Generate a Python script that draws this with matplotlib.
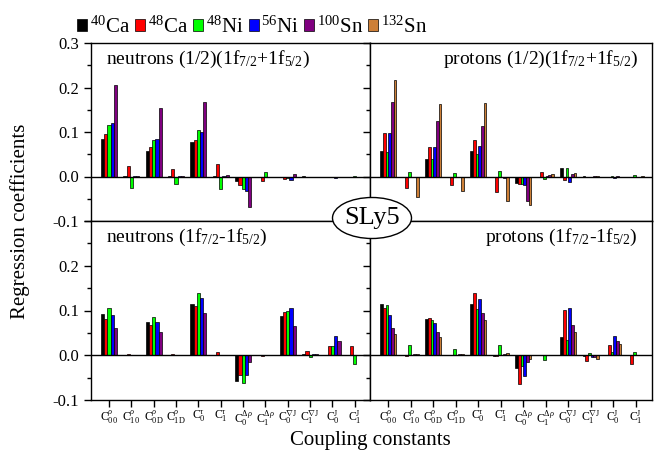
import matplotlib
matplotlib.use("Agg")
import matplotlib.pyplot as plt
import numpy as np
from matplotlib.patches import Ellipse
from matplotlib.ticker import MultipleLocator

plt.rcParams['font.family'] = ['Liberation Serif', 'DejaVu Serif']
plt.rcParams['mathtext.fontset'] = 'custom'
plt.rcParams['mathtext.rm'] = 'Liberation Serif'
plt.rcParams['mathtext.it'] = 'Liberation Serif:italic'
plt.rcParams['mathtext.bf'] = 'Liberation Serif:bold'

# coupling constants (x categories)
constants = [r'$\mathrm{C}^{\rho}_{00}$', r'$\mathrm{C}^{\rho}_{10}$', r'$\mathrm{C}^{\rho}_{\mathrm{0D}}$',
             r'$\mathrm{C}^{\rho}_{\mathrm{1D}}$', r'$\mathrm{C}^{\tau}_{0}$', r'$\mathrm{C}^{\tau}_{1}$',
             r'$\mathrm{C}^{\Delta\rho}_{0}$', r'$\mathrm{C}^{\Delta\rho}_{1}$', r'$\mathrm{C}^{\nabla\mathrm{J}}_{0}$',
             r'$\mathrm{C}^{\nabla\mathrm{J}}_{1}$', r'$\mathrm{C}^{\mathrm{J}}_{0}$', r'$\mathrm{C}^{\mathrm{J}}_{1}$']

nuclei = [r'$^{40}$Ca', r'$^{48}$Ca', r'$^{48}$Ni', r'$^{56}$Ni', r'$^{100}$Sn', r'$^{132}$Sn']
colors = ['#000000', '#ff0000', '#00ff00', '#0000ff', '#800080', '#cd7f37']

# neutrons (1/2)(1f7/2+1f5/2), rows: 40Ca 48Ca 48Ni 56Ni 100Sn
neutrons_sum = [
    [0.085, 0.001, 0.058, 0.001, 0.078, 0.001, -0.010, 0.000, -0.002, 0.001, 0.000, 0.000],
    [0.096, 0.023, 0.066, 0.016, 0.082, 0.028, -0.019, -0.011, -0.005, 0.000, 0.000, 0.000],
    [0.116, -0.025, 0.082, -0.017, 0.105, -0.028, -0.029, 0.009, -0.003, -0.001, 0.000, 0.001],
    [0.120, 0.001, 0.085, 0.001, 0.099, 0.002, -0.033, 0.000, -0.008, 0.000, -0.004, 0.000],
    [0.205, 0.002, 0.155, 0.001, 0.167, 0.003, -0.068, 0.000, 0.006, 0.000, 0.000, 0.000],
]

# protons (1/2)(1f7/2+1f5/2), rows: 40Ca 48Ca 48Ni 56Ni 100Sn 132Sn
protons_sum = [
    [0.058, 0.000, 0.040, 0.000, 0.057, 0.000, -0.015, 0.000, 0.019, 0.001, 0.000, 0.000],
    [0.098, -0.026, 0.066, -0.018, 0.081, -0.034, -0.017, 0.010, -0.007, 0.000, 0.000, 0.000],
    [0.055, 0.010, 0.039, 0.007, 0.050, 0.012, -0.016, -0.005, 0.018, -0.001, 0.001, 0.003],
    [0.098, 0.000, 0.066, 0.000, 0.069, -0.002, -0.020, 0.001, -0.013, 0.000, -0.003, 0.000],
    [0.168, -0.001, 0.124, 0.000, 0.114, -0.003, -0.054, 0.004, 0.005, 0.001, 0.002, 0.000],
    [0.216, -0.047, 0.164, -0.033, 0.166, -0.055, -0.064, 0.005, 0.007, 0.002, 0.000, 0.001],
]

# neutrons (1f7/2-1f5/2)
neutrons_diff = [
    [0.093, 0.001, 0.075, 0.001, 0.115, 0.001, -0.058, 0.000, 0.088, 0.002, 0.001, 0.001],
    [0.082, 0.003, 0.067, 0.002, 0.110, 0.007, -0.045, -0.002, 0.096, 0.010, 0.021, 0.021],
    [0.105, 0.001, 0.086, 0.001, 0.139, 0.001, -0.063, 0.001, 0.100, -0.005, 0.021, -0.020],
    [0.091, 0.001, 0.075, 0.001, 0.129, 0.001, -0.045, 0.001, 0.106, 0.003, 0.044, 0.000],
    [0.060, 0.001, 0.051, 0.001, 0.095, 0.001, -0.014, 0.001, 0.066, 0.003, 0.031, 0.000],
]

# protons (1f7/2-1f5/2)
protons_diff = [
    [0.115, 0.001, 0.082, 0.001, 0.114, -0.001, -0.028, 0.001, 0.040, -0.002, 0.001, 0.001],
    [0.105, -0.001, 0.084, 0.001, 0.138, -0.001, -0.064, 0.001, 0.102, -0.012, 0.022, -0.019],
    [0.113, 0.022, 0.079, 0.015, 0.104, 0.024, -0.025, -0.011, 0.035, 0.004, 0.007, 0.008],
    [0.089, 0.001, 0.073, 0.001, 0.125, 0.000, -0.047, 0.001, 0.105, -0.005, 0.042, 0.001],
    [0.061, 0.002, 0.051, 0.002, 0.095, 0.002, -0.015, 0.000, 0.067, -0.003, 0.031, 0.000],
    [0.048, 0.003, 0.040, 0.003, 0.078, 0.005, -0.008, 0.000, 0.052, -0.008, 0.025, 0.000],
]

titles = [r'neutrons (1/2)(1f$_{7/2}$+1f$_{5/2}$)', r'protons (1/2)(1f$_{7/2}$+1f$_{5/2}$)',
          r'neutrons (1f$_{7/2}$-1f$_{5/2}$)', r'protons (1f$_{7/2}$-1f$_{5/2}$)']

W, H = 660, 462
fig = plt.figure(figsize=(6.6, 4.62), dpi=100)

def px_axes(x0, y0, x1, y1):
    return fig.add_axes([x0 / W, 1 - y1 / H, (x1 - x0) / W, (y1 - y0) / H])

ax_tl = px_axes(91, 43, 370, 221)
ax_tr = px_axes(370, 43, 652, 221)
ax_bl = px_axes(91, 221, 370, 400)
ax_br = px_axes(370, 221, 652, 400)

x = np.arange(1, 13)
panels = [(ax_tl, neutrons_sum), (ax_tr, protons_sum), (ax_bl, neutrons_diff), (ax_br, protons_diff)]
handles = []
for k, (ax, data) in enumerate(panels):
    n = len(data)
    w = 0.72 / n
    for i, vals in enumerate(data):
        bars = ax.bar(x + (i - (n - 1) / 2) * w, vals, w, color=colors[i],
                      edgecolor='black', linewidth=0.5, zorder=2)
        if k == 1:
            handles.append(bars)
    ax.axhline(0, color='black', lw=1, zorder=3)
    ax.set_ylim(-0.1, 0.3)
    ax.set_xlim(0.19, 12.68 if k % 2 == 0 else 12.72)
    ax.yaxis.set_major_locator(MultipleLocator(0.1))
    ax.yaxis.set_minor_locator(MultipleLocator(0.05))
    ax.set_xticks(x)
    ax.tick_params(axis='both', which='major', direction='out', length=5, width=1, labelsize=12)
    ax.tick_params(axis='y', which='minor', direction='out', length=3, width=1)
    for s in ax.spines.values():
        s.set_linewidth(1)
    if k % 2 == 0:
        ax.text(0.055, 0.965, titles[k], transform=ax.transAxes, ha='left', va='top', fontsize=14)
        ax.set_yticks([-0.1, 0.0, 0.1, 0.2, 0.3])
        labels = ['-0.1', '0.0', '0.1', '0.2', '0.3' if k == 0 else '']
        ax.set_yticklabels(labels)
    else:
        ax.text(0.95, 0.965, titles[k], transform=ax.transAxes, ha='right', va='top', fontsize=14)
        ax.set_yticklabels([])
    if k < 2:
        ax.set_xticklabels([])
    else:
        ax.set_xticklabels(constants, fontsize=8.5)
        ax.tick_params(axis='x', pad=1)

fig.text(20 / W, 1 - 221 / H, 'Regression coefficients', rotation=90, ha='center', va='center', fontsize=15)
fig.text(370 / W, 1 - 441 / H, 'Coupling constants', ha='center', va='center', fontsize=15)

ell = Ellipse((372 / W, 1 - 218 / H), 79 / W, 41 / H, transform=fig.transFigure,
              facecolor='white', edgecolor='black', lw=1, zorder=10)
fig.add_artist(ell)
fig.text(372 / W, 1 - 218 / H, 'SLy5', ha='center', va='center', fontsize=19, zorder=11)

fig.legend(handles, nuclei, loc='center', bbox_to_anchor=(252 / W, 1 - 27 / H), ncol=6,
           frameon=False, fontsize=15, handlelength=0.5, handleheight=0.5,
           handletextpad=0.1, columnspacing=0.25, borderaxespad=0)

fig.savefig('out.png', dpi=100)
